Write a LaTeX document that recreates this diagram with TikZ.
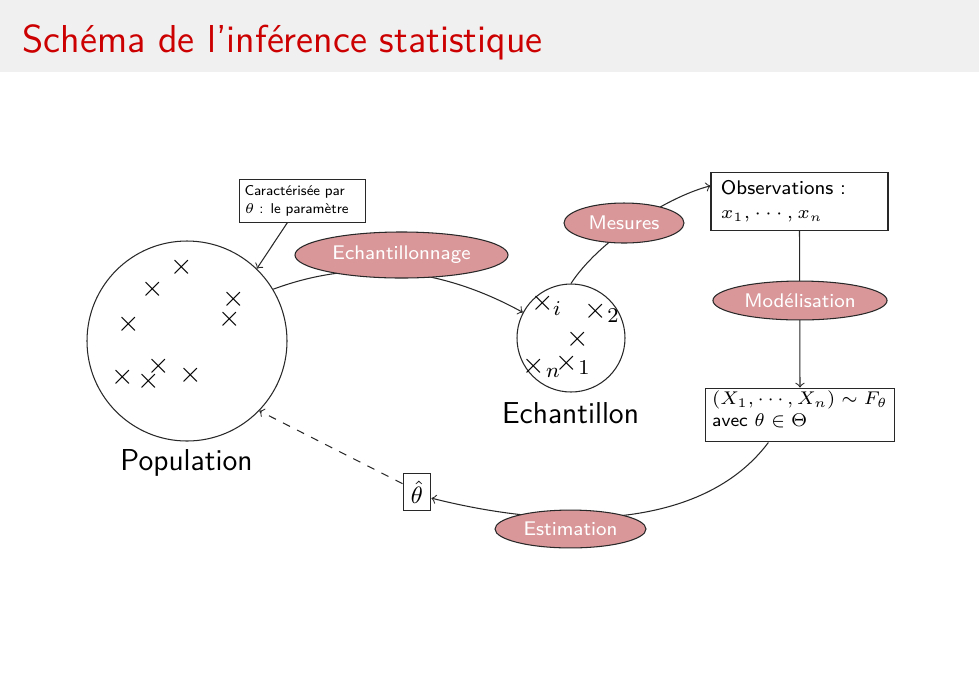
\RequirePackage{fix-cm}
\documentclass[tikz,border=0pt]{standalone}
\usepackage{fontspec}
\usetikzlibrary{shapes.geometric}

\definecolor{barfill}{RGB}{240,240,240}
\definecolor{titlered}{RGB}{204,0,0}
\definecolor{stagefill}{RGB}{217,151,154}
\definecolor{linegray}{RGB}{40,40,40}

\tikzset{
  every node/.style={font=\sffamily},
  conn/.style={->, draw=linegray, line width=0.4pt},
  stage/.style={ellipse, draw=linegray, fill=stagefill, text=white,
    font=\sffamily\fontsize{7.5}{9}\selectfont, inner sep=0pt},
  infobox/.style={draw=linegray, align=left, inner ysep=0pt,
    font=\sffamily\fontsize{7.5}{9}\selectfont},
  setcircle/.style={circle, draw=linegray, inner sep=0pt},
  xpt/.style={inner sep=0pt, font=\fontsize{11}{13}\selectfont},
  xsub/.style={inner sep=0pt, font=\fontsize{8}{9.5}\selectfont},
  setname/.style={anchor=base, inner sep=0pt, font=\sffamily\fontsize{11.5}{14}\selectfont},
}

\begin{document}
\begin{tikzpicture}[x=0.3802pt, y=-0.3802pt]
  % page and title bar
  \fill[white] (0,0) rectangle (979,676);
  \useasboundingbox (0,0) rectangle (979,676);
  \fill[barfill] (0,0) rectangle (979,72);
  \node[anchor=base west, inner sep=0pt, text=titlered,
        font=\sffamily\fontsize{14.8}{17.5}\selectfont] (title) at (22,52.5)
        {Schéma de l’inférence statistique};

  % population and sample
  \node[setcircle, minimum size=76.04pt] (pop) at (187,341) {};
  \node[setcircle, minimum size=41.06pt] (samp) at (571,338) {};
  \node[setname] (poplbl) at (186.5,470) {Population};
  \node[setname] (samplbl) at (570.5,423) {Echantillon};

  % individuals of the population
  \node[xpt] (p1) at (181.7,267.3) {$\times$};
  \node[xpt] (p2) at (152.7,289) {$\times$};
  \node[xpt] (p3) at (234,299) {$\times$};
  \node[xpt] (p4) at (230,319) {$\times$};
  \node[xpt] (p5) at (128.3,324.3) {$\times$};
  \node[xpt] (p6) at (159,366.7) {$\times$};
  \node[xpt] (p7) at (122.7,377.7) {$\times$};
  \node[xpt] (p8) at (148.3,381) {$\times$};
  \node[xpt] (p9) at (191,375.7) {$\times$};

  % individuals of the sample
  \node[xpt] (si) at (543,303) {$\times$};
  \node[xsub] (si-l) at (557,309) {$i$};
  \node[xpt] (s2) at (596,311) {$\times$};
  \node[xsub] (s2-l) at (613,316) {$2$};
  \node[xpt] (sm) at (578,339) {$\times$};
  \node[xpt] (sn) at (534,366) {$\times$};
  \node[xsub] (sn-l) at (553,373) {$n$};
  \node[xpt] (s1) at (567,363) {$\times$};
  \node[xsub] (s1-l) at (584,368) {$1$};

  % boxes
  \node[infobox, font=\sffamily\fontsize{5.4}{6.6}\selectfont,
        text width=44.1pt, inner xsep=1.9pt, minimum height=16pt] (car) at (302.5,201)
        {Caractérisée par\\ $\theta$ : le paramètre};
  \node[infobox, font=\sffamily\fontsize{7.5}{9.1}\selectfont,
        text width=59.7pt, inner xsep=3.8pt, minimum height=21.7pt] (obs) at (799.5,201.5)
        {Observations :\\ {\fontsize{6.9}{9.1}\selectfont$x_1,\cdots,x_n$}};
  \node[infobox, font=\sffamily\fontsize{7}{8.4}\selectfont,
        inner xsep=2.5pt, minimum height=20.5pt] (model) at (800,415)
        {$(X_1,\cdots,X_n)\sim F_\theta$\\ avec $\theta\in\Theta$\rule[-4.6pt]{0pt}{0pt}};
  \node[draw=linegray, inner sep=0pt, minimum width=10.6pt, minimum height=14.4pt,
        font=\fontsize{9}{10}\selectfont] (that) at (417,492) {$\hat\theta$};

  % connectors
  \draw[conn] (car.235) -- (pop.46);
  \draw[conn] (pop.31) .. controls (360,257) and (444,269) .. (samp.152);
  \draw[conn] (samp.90) .. controls (597,243) and (664,198) .. (obs.170);
  \draw[conn] (obs.south) -- (model.north);
  \draw[conn] (model.221) .. controls (702,531) and (558,530) .. (that.-23);
  \draw[conn, dashed] (that.150) -- (pop.-44);

  % stage labels on the connectors
  \node[stage, minimum width=81pt, minimum height=17.5pt] (ech) at (401.5,255) {Echantillonnage};
  \node[stage, minimum width=45.6pt, minimum height=15.2pt] (mes) at (624,223) {Mesures};
  \node[stage, minimum width=66.2pt, minimum height=14.8pt] (mod) at (800,300.5) {Modélisation};
  \node[stage, minimum width=57.4pt, minimum height=14.4pt] (est) at (570.5,529) {Estimation};
\end{tikzpicture}
\end{document}
